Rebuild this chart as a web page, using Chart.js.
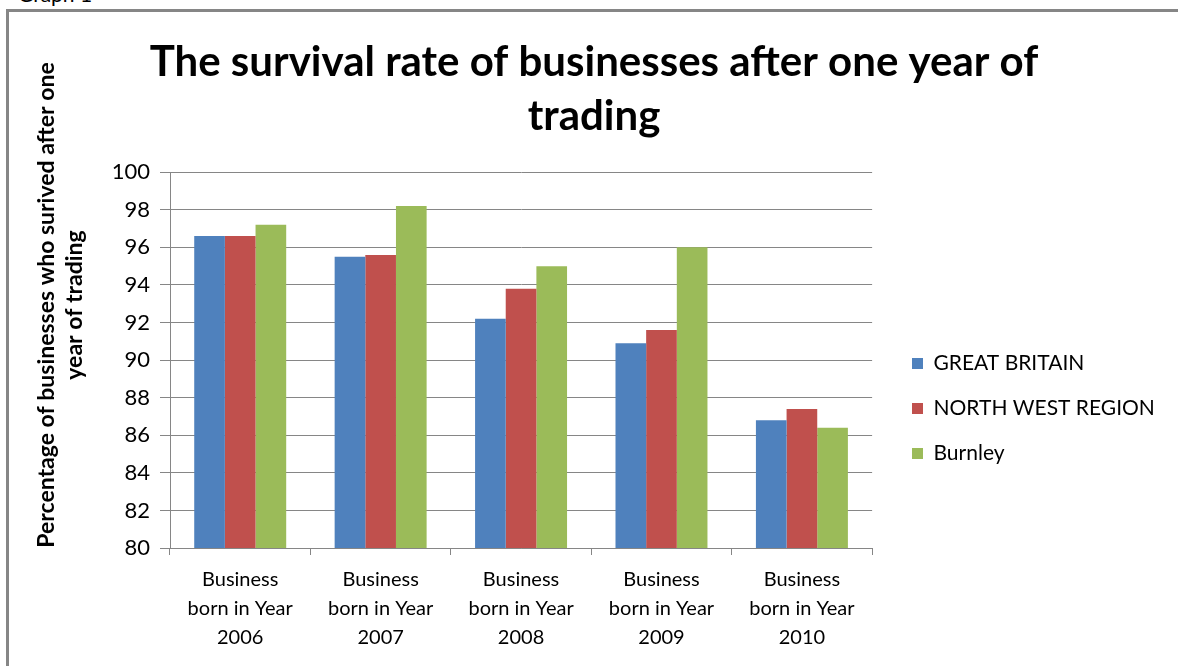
<!DOCTYPE html>
<html>
<head>
<meta charset="utf-8">
<script src="https://cdn.jsdelivr.net/npm/chart.js@4/dist/chart.umd.min.js"></script>
<style>
  body { margin: 0; width: 1178px; height: 666px; overflow: hidden; background: #fff; position: relative; font-family: Lato, sans-serif; }
  #caption { position: absolute; left: 18px; top: -19px; font-size: 21px; color: #000; }
  #frame { position: absolute; left: 6px; top: 9px; width: 1300px; height: 800px; border: 3px solid #868686; }
  #wrap { position: absolute; left: 10px; top: 12px; width: 1168px; height: 654px; }
</style>
</head>
<body>
<div id="caption">Graph 1</div>
<div id="frame"></div>
<div id="wrap"><canvas id="chart" width="1168" height="654"></canvas></div>
<script>
// data
var categories = [
  ['Business', 'born in Year', '2006'],
  ['Business', 'born in Year', '2007'],
  ['Business', 'born in Year', '2008'],
  ['Business', 'born in Year', '2009'],
  ['Business', 'born in Year', '2010']
];
var greatBritain = [96.6, 95.5, 92.2, 90.9, 86.8];
var northWest = [96.6, 95.6, 93.8, 91.6, 87.4];
var burnley = [97.2, 98.2, 95.0, 96.0, 86.4];
var seriesNames = ['GREAT BRITAIN', 'NORTH WEST REGION', 'Burnley'];
var seriesColors = ['#4F81BD', '#C0504D', '#9BBB59'];
var yMin = 80, yMax = 100, yStep = 2;

var titleLines = ['The survival rate of businesses after one year of', 'trading'];
var yTitleLines = ['Percentage of businesses who surived after one', 'year of trading'];

var GRID = '#868686';
var FONT = 'Lato';

// y axis title, placed like the original (not centred on the axis)
var yTitlePlugin = {
  id: 'yTitle',
  afterDraw: function(chart) {
    var ctx = chart.ctx;
    ctx.save();
    ctx.translate(51, 293);
    ctx.rotate(-Math.PI / 2);
    ctx.font = 'bold 23px ' + FONT;
    ctx.fillStyle = '#000';
    ctx.textAlign = 'center';
    ctx.textBaseline = 'middle';
    ctx.fillText(yTitleLines[0], 0, -14);
    ctx.fillText(yTitleLines[1], 0, 14);
    ctx.restore();
  }
};

// move the legend to where it sits in the original
var legendPlacePlugin = {
  id: 'legendPlace',
  afterLayout: function(chart) {
    var lg = chart.legend;
    var w = lg.width, h = lg.height;
    lg.left = 878; lg.right = lg.left + w;
    lg.top = 317; lg.bottom = lg.top + h;
  }
};

var datasets = [greatBritain, northWest, burnley].map(function(vals, i) {
  return {
    label: seriesNames[i],
    data: vals,
    backgroundColor: seriesColors[i],
    borderWidth: 0,
    categoryPercentage: 0.655,
    barPercentage: 1.0
  };
});

new Chart(document.getElementById('chart'), {
  type: 'bar',
  data: { labels: categories, datasets: datasets },
  plugins: [yTitlePlugin, legendPlacePlugin],
  options: {
    responsive: false,
    animation: false,
    // equal side padding keeps the title centred on the canvas
    layout: { padding: { left: 29, right: 29, top: 0, bottom: 0 } },
    plugins: {
      title: {
        display: true,
        text: titleLines,
        color: '#000',
        font: { family: FONT, size: 42, weight: 'bold', lineHeight: 1.3 },
        padding: { top: 23, bottom: 28 }
      },
      legend: {
        position: 'right',
        align: 'start',
        labels: {
          color: '#000',
          font: { family: FONT, size: 21 },
          boxWidth: 11,
          boxHeight: 11,
          padding: 24
        }
      },
      tooltip: { enabled: false }
    },
    scales: {
      x: {
        grid: { display: true, drawOnChartArea: false, drawTicks: true, tickLength: 7, color: GRID, offset: true },
        border: { display: true, color: GRID, width: 1 },
        ticks: { color: '#000', font: { family: FONT, size: 20, lineHeight: 1.45 }, padding: 10, maxRotation: 0, autoSkip: false },
        afterFit: function(scale) { scale.height = 118; }
      },
      y: {
        min: yMin,
        max: yMax,
        grid: { color: GRID, lineWidth: 1, tickLength: 10 },
        border: { display: true, color: GRID, width: 1 },
        ticks: { stepSize: yStep, color: '#000', font: { family: FONT, size: 22 }, padding: 10 },
        afterFit: function(scale) { scale.width = 131; }
      }
    }
  }
});
</script>
</body>
</html>
